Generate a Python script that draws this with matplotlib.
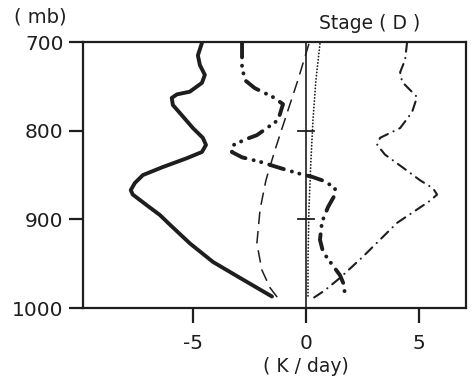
import matplotlib
matplotlib.use("Agg")
import matplotlib.pyplot as plt

# pressure levels (mb) and heating rates (K/day)
solid_p = [701, 715, 726, 737, 746, 756, 759, 763, 771, 780, 797, 808, 816, 824, 831, 841, 850, 859,
           867, 872, 884, 895, 906, 927, 948, 966, 987]
solid_x = [-4.62, -4.8, -4.71, -4.49, -4.62, -5.16, -5.73, -5.96, -5.91, -5.6, -5.02, -4.58, -4.44,
           -4.62, -5.29, -6.36, -7.24, -7.6, -7.78, -7.69, -7.07, -6.49, -6.04, -5.16, -4.13, -2.93,
           -1.51]

dashed_p = [702, 743, 780, 822, 856, 889, 927, 957, 977, 989]
dashed_x = [0.13, -0.36, -0.84, -1.38, -1.78, -2.04, -2.18, -1.96, -1.6, -1.24]

dotted_p = [702, 743, 788, 833, 889, 946, 989]
dotted_x = [0.62, 0.44, 0.31, 0.22, 0.13, 0.09, 0.09]

heavy_p = [700, 728, 743, 752, 762, 770, 788, 805, 810, 817, 824, 830, 835, 842, 848, 852, 857,
           865, 872, 886, 903, 923, 937, 951, 963, 974, 987]
heavy_x = [-2.84, -2.84, -2.71, -2.27, -1.47, -1.02, -1.24, -2.18, -2.71, -3.29, -3.29, -2.84, -2.04,
           -1.16, -0.36, 0.27, 0.84, 1.29, 1.29, 0.98, 0.71, 0.62, 0.76, 1.16, 1.51, 1.69, 1.73]

thin_p = [700, 720, 734, 745, 762, 779, 797, 808, 816, 827, 841, 856, 865, 872, 879, 904, 942, 966,
          980, 989]
thin_x = [4.49, 4.4, 4.18, 4.27, 4.93, 4.71, 4.18, 3.29, 3.16, 3.51, 4.27, 5.07, 5.64, 5.82, 5.51,
          4.04, 2.53, 1.51, 0.84, 0.31]

y_ticks = [700, 800, 900, 1000]
x_ticks = [-5, 0, 5]
x_tick_labels = ["-5", "0", "5"]

ink = "#1e1e1e"
plt.rcParams["lines.scale_dashes"] = False
plt.rcParams["font.family"] = "DejaVu Sans"

fig = plt.figure(figsize=(4.73, 3.86), dpi=100)
ax = fig.add_axes([0.1755, 0.202, 0.8095, 0.689])

# zero line and small marks on it
ax.axvline(0, color=ink, lw=1.2, zorder=1)
for lev in [800, 900]:
    ax.plot([-0.35, 0.35], [lev, lev], color=ink, lw=1.3)

ax.plot(solid_x, solid_p, color=ink, lw=2.8, solid_capstyle="round", solid_joinstyle="round")
ax.plot(dashed_x, dashed_p, color=ink, lw=1.1, linestyle=(0, (9, 5)))
ax.plot(dotted_x, dotted_p, color=ink, lw=1.3, linestyle=(0, (0.1, 2.2)), dash_capstyle="round")
ax.plot(heavy_x, heavy_p, color=ink, lw=2.8, linestyle=(0, (11, 6, 0.1, 5.5, 0.1, 6)),
        dash_capstyle="round")
ax.plot(thin_x, thin_p, color=ink, lw=1.5, linestyle=(0, (7, 4.5, 0.1, 4.5)),
        dash_capstyle="round")

ax.set_xlim(-9.9, 7.1)
ax.set_ylim(1000, 700)
ax.set_yticks(y_ticks)
ax.set_xticks(x_ticks)
ax.set_xticklabels(x_tick_labels)

for s in ax.spines.values():
    s.set_linewidth(1.6)
    s.set_color(ink)
ax.tick_params(axis="y", direction="out", length=10, width=1.6, pad=4, labelsize=14.5, colors=ink)
ax.tick_params(axis="x", direction="out", length=11, width=1.6, pad=8, labelsize=14.5, colors=ink)

fig.text(0.03, 0.955, "( mb)", fontsize=14, color=ink, va="center", ha="left")
fig.text(0.675, 0.94, "Stage ( D )", fontsize=13.5, color=ink, va="center", ha="left")
fig.text(0.647, 0.05, "( K / day)", fontsize=13.5, color=ink, va="center", ha="center")

fig.savefig("out.png", dpi=100)
